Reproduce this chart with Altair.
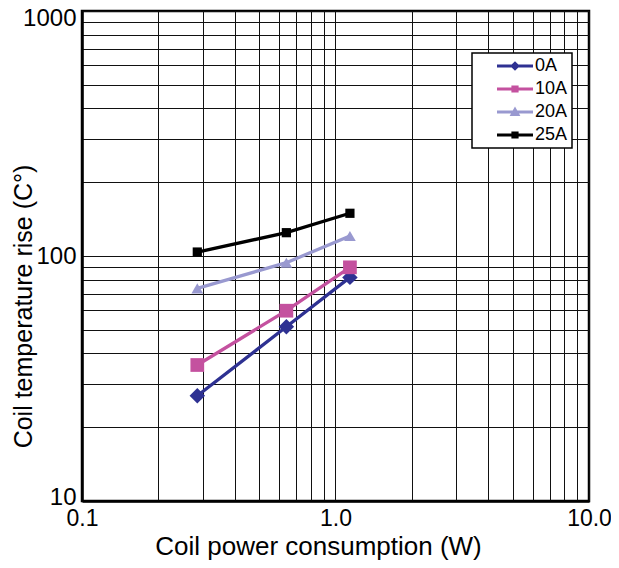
import altair as alt
import pandas as pd

series = ["0A", "10A", "20A", "25A"]
power = [0.285, 0.64, 1.14]
rise_0A = [26.9, 51.4, 81.8]
rise_10A = [35.9, 59.8, 89.9]
rise_20A = [73.8, 93.9, 120.7]
rise_25A = [103.8, 124.5, 149.4]

colors = ["#2E3192", "#C4519F", "#9999D0", "#000000"]
marker_shapes = ["diamond", "square", "triangle-up", "square"]
marker_sizes = [240, 85, 330, 85]
legend_paths = [
    "M-1,-0.09H1V0.09H-1Z M0,-0.27L0.27,0L0,0.27L-0.27,0Z",
    "M-1,-0.09H1V0.09H-1Z M-0.2,-0.2H0.2V0.2H-0.2Z",
    "M-1,-0.09H1V0.09H-1Z M0,-0.3L0.3,0.22H-0.3Z",
    "M-1,-0.09H1V0.09H-1Z M-0.2,-0.2H0.2V0.2H-0.2Z",
]

x_ticks = [0.1, 0.2, 0.3, 0.4, 0.5, 0.6, 0.7, 0.8, 0.9,
           1, 2, 3, 4, 5, 6, 7, 8, 9, 10]
y_ticks = [10, 20, 30, 40, 50, 60, 70, 80, 90,
           100, 200, 300, 400, 500, 600, 700, 800, 900, 1000]

rows = []
for s, vals in zip(series, [rise_0A, rise_10A, rise_20A, rise_25A]):
    for p, v in zip(power, vals):
        rows.append({"series": s, "power": p, "rise": v})
df = pd.DataFrame(rows)

FONT = "Liberation Sans"

x_enc = alt.X(
    "power:Q",
    scale=alt.Scale(type="log", domain=[0.1, 10], nice=False),
    axis=alt.Axis(
        values=x_ticks,
        labelExpr="datum.value == 0.1 ? '0.1' : datum.value == 1 ? '1.0' : datum.value == 10 ? '10.0' : ''",
        labelOverlap=False, labelFlush=False, ticks=False,
        grid=True, gridColor="#111111", gridWidth=1,
        domainColor="#000000", domainWidth=2.5,
        labelFont=FONT, labelFontSize=23, labelColor="#000000", labelPadding=6,
        title="Coil power consumption (W)", titleFont=FONT, titleFontSize=26,
        titleFontWeight="normal", titleColor="#000000",
        titleBaseline="alphabetic", titleX=236, titleY=53,
    ),
)
y_enc = alt.Y(
    "rise:Q",
    scale=alt.Scale(type="log", domain=[10, 1000], nice=False),
    axis=alt.Axis(
        values=y_ticks,
        labelExpr="datum.value == 10 ? '10' : datum.value == 100 ? '100' : datum.value == 1000 ? '1000' : ''",
        labelOffset={"condition": [{"test": "datum.value == 1000", "value": 7},
                                   {"test": "datum.value == 10", "value": -4}],
                     "value": 0},
        labelOverlap=False, labelFlush=False, ticks=False,
        grid=True, gridColor="#111111", gridWidth=1,
        domainColor="#000000", domainWidth=2.5,
        labelFont=FONT, labelFontSize=24, labelColor="#000000", labelPadding=6,
        title="Coil temperature rise (C°)", titleFont=FONT, titleFontSize=25,
        titleFontWeight="normal", titleColor="#000000",
        titleBaseline="alphabetic", titleX=-51, titleY=295,
    ),
)

lines = alt.Chart(df).mark_line(strokeWidth=3.3).encode(
    x=x_enc, y=y_enc,
    color=alt.Color("series:N", scale=alt.Scale(domain=series, range=colors), legend=None),
    detail="series:N",
)

points = alt.Chart(df).mark_point(filled=True, opacity=1, strokeWidth=0).encode(
    x=x_enc, y=y_enc,
    color=alt.Color("series:N", scale=alt.Scale(domain=series, range=colors), legend=None),
    shape=alt.Shape("series:N", scale=alt.Scale(domain=series, range=marker_shapes), legend=None),
    size=alt.Size("series:N", scale=alt.Scale(domain=series, range=marker_sizes), legend=None),
)

legend_def = alt.Legend(
    title=None, orient="none", legendX=390, legendY=42,
    fillColor="#FFFFFF", strokeColor="#000000",
    padding=4, symbolSize=1296, clipHeight=18, symbolOffset=21, labelOffset=2,
    rowPadding=5, symbolStrokeWidth=0,
    labelFont=FONT, labelFontSize=18, labelColor="#000000",
)

legend_layer = alt.Chart(df).transform_filter("datum.power < 0").mark_point(
    filled=True, opacity=1, strokeWidth=0
).encode(
    x=x_enc, y=y_enc,
    color=alt.Color("series:N", scale=alt.Scale(domain=series, range=colors), legend=legend_def),
    shape=alt.Shape("series:N", scale=alt.Scale(domain=series, range=legend_paths), legend=legend_def),
)

chart = alt.layer(lines, points, legend_layer).resolve_scale(
    color="independent", shape="independent"
).properties(
    width=507, height=490,
    padding={"left": 74, "top": 3, "right": 22, "bottom": 59},
    autosize=alt.AutoSizeParams(type="none"),
).configure_view(
    stroke="#000000", strokeWidth=2.5
).configure_legend(strokeWidth=1.5)

chart.save("out.html", embed_options={"renderer": "svg", "actions": False})
